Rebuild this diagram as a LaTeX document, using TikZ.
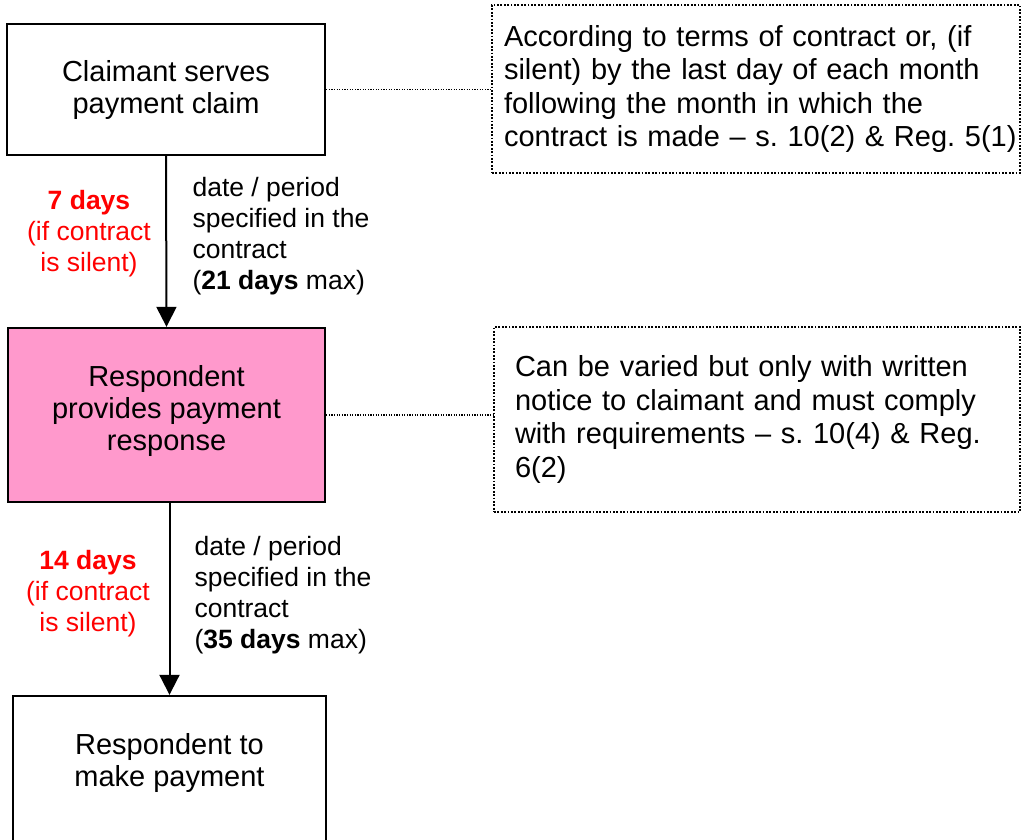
\documentclass[tikz,border=0pt]{standalone}
\usepackage{fontspec}
\setmainfont{Liberation Sans}
\usetikzlibrary{arrows.meta}
\definecolor{boxpink}{RGB}{255,153,204}
\definecolor{alertred}{RGB}{255,0,0}
\frenchspacing
\tikzset{
  stepbox/.style={draw=black, line width=2.4pt, align=center, inner sep=0pt,
    font=\fontsize{29}{32}\selectfont},
  notebox/.style={draw=black, line width=1.8pt, dash pattern=on 1.8pt off 1.6pt,
    align=left, inner ysep=0pt, font=\fontsize{29}{33.5}\selectfont},
  flowarrow/.style={line width=2pt, -{Triangle[length=20pt,width=20pt]}},
  linkline/.style={line width=1.2pt, dash pattern=on 1.2pt off 1.4pt},
  timelabel/.style={align=center, text=alertred, font=\fontsize{26.5}{31}\selectfont},
  periodlabel/.style={align=left, anchor=west, font=\fontsize{26.5}{31}\selectfont}
}
\begin{document}
\begin{tikzpicture}[x=1pt, y=-1pt]
  \useasboundingbox (0,0) rectangle (1023,839);
  \clip (0,0) rectangle (1023,839);

  % process steps
  \node[stepbox, minimum width=318pt, minimum height=131pt] (b1) at (166,89.5)
    {Claimant serves\\payment claim};
  \node[stepbox, fill=boxpink, minimum width=317pt, minimum height=174pt] (b2) at (166.5,415)
    {Respondent\\provides payment\\response\rule[-14pt]{0pt}{14pt}};
  \node[stepbox, minimum width=313pt, minimum height=200pt,
    label={[align=center, anchor=north, yshift=-35pt, font=\fontsize{29}{32}\selectfont]north:Respondent to\\make payment}]
    (b3) at (169.5,796) {};

  % side notes
  \node[notebox, minimum width=528pt, minimum height=168pt, inner xsep=12pt, text width=504pt] (n1) at (756,89)
    {According to terms of contract or, (if\\silent) by the last day of each month\\following the month in which the\\\mbox{contract is made -- s. 10(2) \& Reg. 5(1)}};
  \node[notebox, minimum width=526pt, minimum height=185pt, inner xsep=21pt, text width=484pt] (n2) at (757,419.5)
    {Can be varied but only with written\\notice to claimant and must comply\\with requirements -- s. 10(4) \& Reg.\\6(2)};

  % flow
  \draw[flowarrow] (b1.south) -- (b2.north);
  \draw[flowarrow] (b2.south -| b3.north) -- (b3.north);

  % links to notes
  \draw[linkline] (b1.east) -- (n1.west |- b1.east);
  \draw[linkline] (b2.east) -- (n2.west |- b2.east);

  % time limits
  \node[timelabel] (t1) at (89,234) {\textbf{7 days}\\(if contract\\is silent)};
  \node[periodlabel] (p1) at (189,236.5) {date / period\\specified in the\\contract\\(\textbf{21 days} max)};
  \node[timelabel] (t2) at (88,594) {\textbf{14 days}\\(if contract\\is silent)};
  \node[periodlabel] (p2) at (191,595.5) {date / period\\specified in the\\contract\\(\textbf{35 days} max)};
\end{tikzpicture}
\end{document}
